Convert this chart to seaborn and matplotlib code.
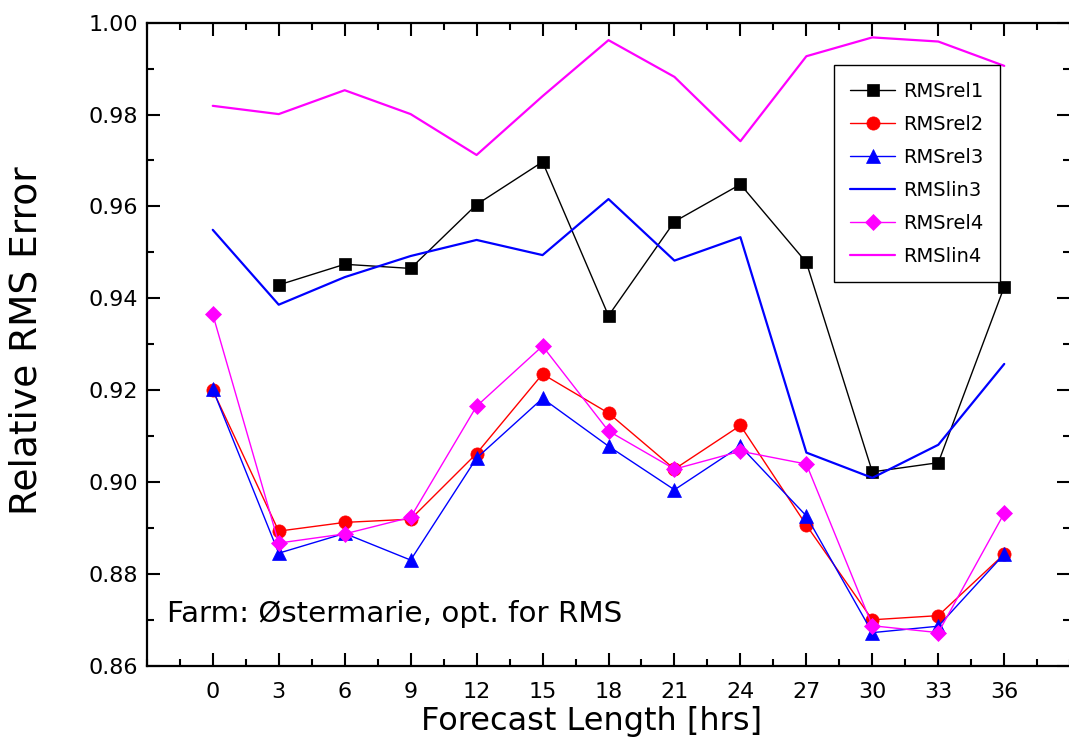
import matplotlib
matplotlib.use("Agg")
import matplotlib.pyplot as plt
from matplotlib.ticker import MultipleLocator, FormatStrFormatter
import seaborn as sns

# Forecast horizons [hrs]
hours = [0, 3, 6, 9, 12, 15, 18, 21, 24, 27, 30, 33, 36]
hours_rel1 = [3, 6, 9, 12, 15, 18, 21, 24, 27, 30, 33, 36]

# Relative RMS error per model
rms_rel1 = [0.9429, 0.9474, 0.9465, 0.9604, 0.9697, 0.9362, 0.9567, 0.9648,
            0.9478, 0.9022, 0.9042, 0.9425]
rms_rel2 = [0.9200, 0.8893, 0.8912, 0.8919, 0.9062, 0.9235, 0.9150, 0.9028,
            0.9123, 0.8906, 0.8700, 0.8709, 0.8843]
rms_rel3 = [0.9202, 0.8845, 0.8888, 0.8830, 0.9052, 0.9182, 0.9078, 0.8983,
            0.9078, 0.8926, 0.8672, 0.8686, 0.8843]
rms_lin3 = [0.9549, 0.9386, 0.9446, 0.9492, 0.9527, 0.9494, 0.9616, 0.9482,
            0.9533, 0.9064, 0.9009, 0.9081, 0.9257]
rms_rel4 = [0.9365, 0.8867, 0.8887, 0.8923, 0.9165, 0.9296, 0.9111, 0.9028,
            0.9067, 0.9039, 0.8687, 0.8672, 0.8932]
rms_lin4 = [0.9819, 0.9801, 0.9853, 0.9801, 0.9712, 0.9840, 0.9962, 0.9882,
            0.9742, 0.9927, 0.9968, 0.9959, 0.9906]

x_ticks = [0, 3, 6, 9, 12, 15, 18, 21, 24, 27, 30, 33, 36]
y_ticks = [0.86, 0.88, 0.90, 0.92, 0.94, 0.96, 0.98, 1.00]

sns.set_style("white")
plt.rcParams["font.family"] = ["DejaVu Sans"]
plt.rcParams["text.color"] = "black"
plt.rcParams["axes.labelcolor"] = "black"
plt.rcParams["xtick.color"] = "black"
plt.rcParams["ytick.color"] = "black"

fig = plt.figure(figsize=(10.69, 7.40), dpi=100)
ax = fig.add_axes([146.8 / 1069, 74.3 / 740, 923.4 / 1069, 643.0 / 740])

series = [
    (hours_rel1, rms_rel1, "RMSrel1", "black", "s", 9.0, 1.0),
    (hours, rms_rel2, "RMSrel2", "#ff0000", "o", 9.5, 1.0),
    (hours, rms_rel3, "RMSrel3", "#0000ff", "^", 10.5, 1.0),
    (hours, rms_lin3, "RMSlin3", "#0000ff", None, 0, 1.6),
    (hours, rms_rel4, "RMSrel4", "#ff00ff", "D", 8.5, 1.0),
    (hours, rms_lin4, "RMSlin4", "#ff00ff", None, 0, 1.6),
]

for xs, ys, name, color, marker, ms, lw in series:
    kw = dict(x=xs, y=ys, ax=ax, color=color, linewidth=lw, label=name)
    if marker is not None:
        kw.update(marker=marker, markersize=ms, markeredgecolor=color,
                  markerfacecolor=color, markeredgewidth=0.5)
    sns.lineplot(**kw)

ax.set_xlim(-3, 39)
ax.set_ylim(0.86, 1.00)
ax.set_xticks(x_ticks)
ax.set_yticks(y_ticks)
ax.xaxis.set_minor_locator(MultipleLocator(1.5))
ax.yaxis.set_minor_locator(MultipleLocator(0.01))
ax.yaxis.set_major_formatter(FormatStrFormatter("%.2f"))

for side in ["left", "right", "top", "bottom"]:
    ax.spines[side].set_visible(True)
    ax.spines[side].set_linewidth(1.6)
    ax.spines[side].set_color("black")

ax.tick_params(which="both", direction="in", top=True, right=True,
               bottom=True, left=True, color="black", labelcolor="black")
ax.tick_params(which="major", length=9.5, width=1.5)
ax.tick_params(which="minor", length=5, width=1.5)
ax.tick_params(axis="x", which="major", labelsize=16, pad=12)
ax.tick_params(axis="y", which="major", labelsize=16, pad=6)

ax.set_xlabel("Forecast Length [hrs]", fontsize=23)
ax.xaxis.set_label_coords(0.482, -0.062)
ax.set_ylabel("Relative RMS Error", fontsize=27)
ax.yaxis.set_label_coords(-0.111, 0.505)

ax.text(-2.1, 0.8713, "Farm: Østermarie, opt. for RMS", fontsize=21.2,
        ha="left", va="center")

leg = ax.legend(loc="upper left", bbox_to_anchor=(0.744, 0.934),
                borderaxespad=0, fontsize=14, frameon=True, fancybox=False,
                framealpha=1, edgecolor="black", labelspacing=0.72,
                handlelength=2.3, handletextpad=0.4, borderpad=0.85,
                numpoints=1)
leg.get_frame().set_linewidth(1.0)

fig.savefig("out.png", dpi=100)
